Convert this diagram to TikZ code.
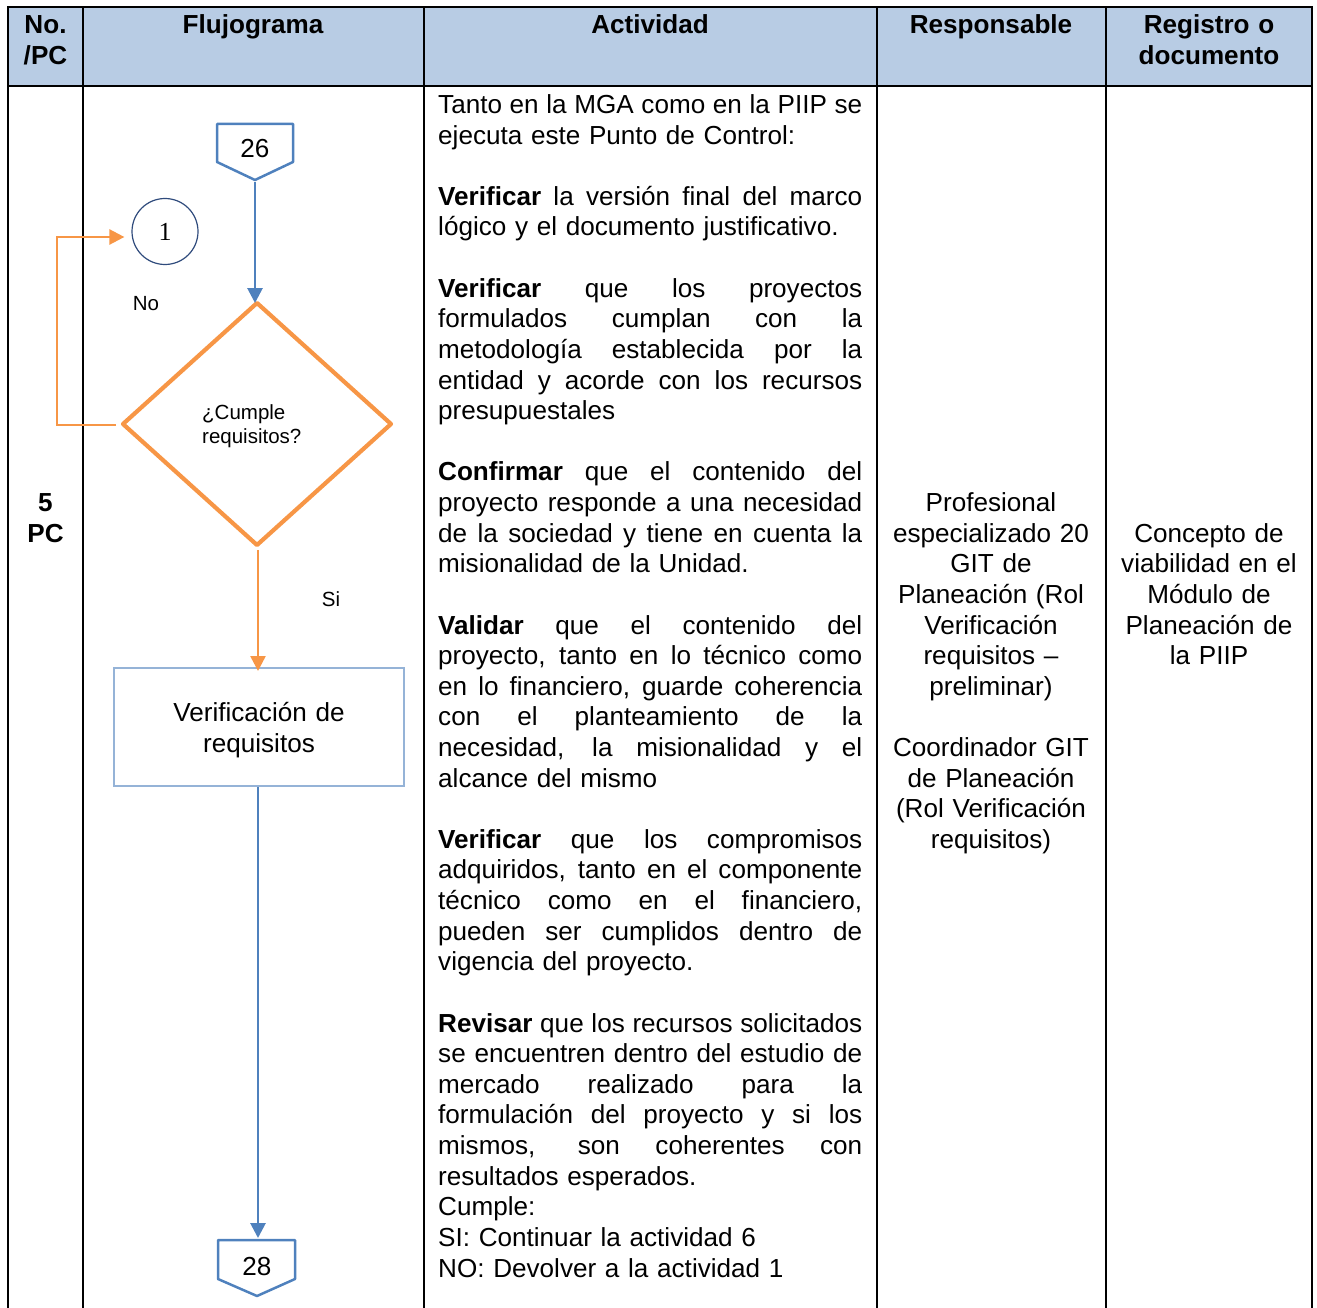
\documentclass[tikz,border=0pt]{standalone}
\usepackage{fontspec}
\setmainfont{Liberation Sans}
\newfontfamily\numserif{Liberation Serif}
\usetikzlibrary{arrows.meta}
\definecolor{hdrblue}{HTML}{B8CCE4}
\definecolor{lineblue}{HTML}{4F81BD}
\definecolor{boxblue}{HTML}{95B3D7}
\definecolor{flowor}{HTML}{F79646}
\definecolor{navy}{HTML}{2F4B7C}
\newcommand{\jl}[1]{\makebox[424pt][s]{\spaceskip=.28em plus 3em minus .05em\relax #1}\\}

\begin{document}
\begin{tikzpicture}[x=1pt,y=-1pt,
  body/.style={font=\fontsize{26.1}{30.62}\selectfont, inner sep=0pt},
  cbody/.style={body, text width=#1, align=center, anchor=base},
  head/.style={cbody=#1, font=\fontsize{26.1}{30.62}\selectfont\bfseries},
  small/.style={font=\fontsize{20.5}{24}\selectfont, inner sep=0pt},
  bluearrow/.style={lineblue, line width=2.8pt, -{Triangle[width=15pt,length=15pt]}},
  orarrow/.style={flowor, line width=2.5pt, -{Triangle[width=15pt,length=15pt]}},
  offpage/.style={lineblue, line width=2.5pt, line join=round},
  grid/.style={line width=2pt}]
  \useasboundingbox (0,0) rectangle (1317,1308);

  % tabla
  \fill[hdrblue] (8,8) rectangle (1312,86);
  \draw[grid] (7,7) -- (1313,7);
  \draw[grid] (7,86) -- (1313,86);
  \foreach \x in {8,83,424,877,1106,1312}
    \draw[grid] (\x,7) -- (\x,1308);

  \node[head=70pt] (hno) at (45.5,33.5) {No.\\/PC};
  \node[head=330pt] (hflujo) at (253,33.5) {Flujograma};
  \node[head=440pt] (hact) at (650,33.5) {Actividad};
  \node[head=220pt] (hresp) at (991,33.5) {Responsable};
  \node[head=200pt] (hreg) at (1209,33.5) {Registro o\\documento};

  \node[head=70pt] (pc) at (45.5,511.6) {5\\PC};

  % actividad
  \node[body, text width=424pt, align=left, anchor=base west] (act) at (438,113.5) {%
    \jl{Tanto en la MGA como en la PIIP se}
    ejecuta este Punto de Control:\\
    \mbox{}\\
    \jl{\textbf{Verificar} la versión final del marco}
    lógico y el documento justificativo.\\
    \mbox{}\\
    \jl{\textbf{Verificar} que los proyectos}
    \jl{formulados cumplan con la}
    \jl{metodología establecida por la}
    \jl{entidad y acorde con los recursos}
    presupuestales\\
    \mbox{}\\
    \jl{\textbf{Confirmar} que el contenido del}
    \jl{proyecto responde a una necesidad}
    \jl{de la sociedad y tiene en cuenta la}
    misionalidad de la Unidad.\\
    \mbox{}\\
    \jl{\textbf{Validar} que el contenido del}
    \jl{proyecto, tanto en lo técnico como}
    \jl{en lo financiero, guarde coherencia}
    \jl{con el planteamiento de la}
    \jl{necesidad, la misionalidad y el}
    alcance del mismo\\
    \mbox{}\\
    \jl{\textbf{Verificar} que los compromisos}
    \jl{adquiridos, tanto en el componente}
    \jl{técnico como en el financiero,}
    \jl{pueden ser cumplidos dentro de}
    vigencia del proyecto.\\
    \mbox{}\\
    \jl{\textbf{Revisar} que los recursos solicitados}
    \jl{se encuentren dentro del estudio de}
    \jl{mercado realizado para la}
    \jl{formulación del proyecto y si los}
    \jl{mismos, son coherentes con}
    resultados esperados.\\
    Cumple:\\
    SI: Continuar la actividad 6\\
    NO: Devolver a la actividad 1};

  \node[cbody=220pt] (resp) at (991,511.6) {Profesional\\especializado 20\\GIT de\\Planeación (Rol\\Verificación\\requisitos --\\preliminar)\\[30.62pt]Coordinador GIT\\de Planeación\\(Rol Verificación\\requisitos)};
  \node[cbody=200pt] (reg) at (1209,542.2) {Concepto de\\viabilidad en el\\Módulo de\\Planeación de\\la PIIP};

  % flujograma
  \draw[offpage] (217,124) -- (293,124) -- (293,162) -- (255,180) -- (217,162) -- cycle;
  \node[body, anchor=base] (n26) at (255,157.6) {26};
  \coordinate (p26) at (255,182);

  \node[circle, draw=navy, line width=1.2pt, minimum size=66pt, inner sep=0pt,
    font=\numserif\fontsize{26}{26}\selectfont] (c1) at (165,231.5) {1};

  \coordinate (dtop) at (257,303);
  \coordinate (drgt) at (391,424);
  \coordinate (dbot) at (257,545);
  \coordinate (dlft) at (123,424);
  \draw[flowor, line width=4.2pt, line join=round] (dtop) -- (drgt) -- (dbot) -- (dlft) -- cycle;
  \node[small, text width=120pt, align=left, anchor=base west] (dtxt) at (202,419.5) {¿Cumple\\requisitos?};

  \node[small, anchor=base] (no) at (146,310.5) {No};
  \node[small, anchor=base] (si) at (331,606.5) {Si};

  \node[draw=boxblue, line width=2pt, minimum width=290pt, minimum height=118pt] (box) at (259,727) {};
  \node[cbody=280pt] (boxtxt) at (259,721.7) {Verificación de\\requisitos};

  \draw[offpage] (218,1240) -- (295,1240) -- (295,1279) -- (257,1296) -- (218,1279) -- cycle;
  \node[body, anchor=base] (n28) at (257,1275) {28};
  \coordinate (p28) at (258,1238);

  \coordinate (dlout) at (116,425);
  \coordinate (loopx) at (57,237);
  \coordinate (dsal) at (258,550);

  \draw[bluearrow] (p26) -- (p26 |- dtop);
  \draw[orarrow] (dlout) -| (loopx) -- ([xshift=-7pt]c1.west |- loopx);
  \draw[orarrow] (dsal) -- ([yshift=-4pt]box.north -| dsal);
  \draw[bluearrow] (box.south -| p28) -- (p28);
\end{tikzpicture}
\end{document}
